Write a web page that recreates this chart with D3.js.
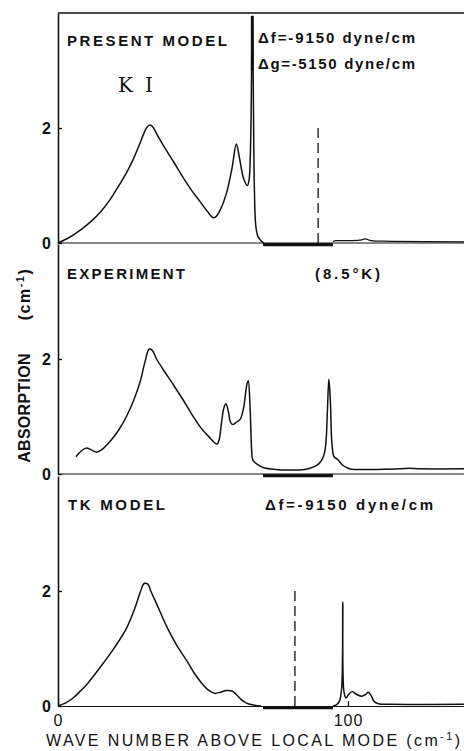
<!DOCTYPE html>
<html>
<head>
<meta charset="utf-8">
<script src="https://cdn.jsdelivr.net/npm/d3@7"></script>
<style>
  body { margin: 0; background: #fff; }
  svg { display: block; }
  text { font-family: 'Liberation Sans', Arial, sans-serif; fill: #111; }
</style>
</head>
<body>
<div id="chart"></div>
<script>
// wave number above local mode (cm-1) and absorption (cm-1)
const presentX = [0, 4, 8.6, 11.5, 14.5, 17.9, 21, 23.6, 25.9, 28, 29.4, 30.5, 31.5, 32.5, 34, 37, 40, 43, 46, 49, 51.5, 53.5, 54.5, 56, 58, 60, 61.5, 62.5, 64, 65.3, 65.9, 67.0, 67.7, 68.2, 68.9, 70, 71]
const presentY = [0, 0.1, 0.26, 0.38, 0.53, 0.75, 1.0, 1.22, 1.45, 1.7, 1.88, 2.0, 2.05, 2.03, 1.9, 1.64, 1.4, 1.15, 0.92, 0.72, 0.55, 0.44, 0.46, 0.58, 0.85, 1.3, 1.72, 1.5, 1.12, 1.0, 1.1, 3.95, 1.0, 0.3, 0.12, 0.04, 0]
const presentTailX = [94.8, 96, 100, 104, 106, 108, 115, 140]
const presentTailY = [0.03, 0.04, 0.04, 0.05, 0.07, 0.04, 0.03, 0.02]

const experimentX = [6.2, 8, 9.7, 11.5, 13.3, 15, 18, 21, 23.6, 26, 28.3, 30, 31.4, 32.5, 34, 36.5, 39.8, 43, 46, 49, 52, 54.8, 55.6, 56.4, 57.2, 57.9, 58.7, 59.5, 60.2, 61.5, 62.8, 64, 65.1, 65.6, 66.2, 66.8, 67.2, 69, 71, 75, 80, 85, 88, 90, 91.5, 92.3, 92.9, 93.4, 93.9, 94.5, 95.2, 96.5, 98, 100, 102, 110, 118, 121, 125, 140]
const experimentY = [0.3, 0.4, 0.45, 0.42, 0.38, 0.42, 0.57, 0.77, 1.0, 1.27, 1.6, 1.95, 2.17, 2.15, 2.0, 1.8, 1.55, 1.3, 1.05, 0.82, 0.65, 0.52, 0.6, 0.9, 1.15, 1.22, 1.1, 0.9, 0.86, 0.9, 0.95, 1.15, 1.55, 1.62, 1.2, 0.4, 0.24, 0.16, 0.11, 0.08, 0.07, 0.08, 0.12, 0.18, 0.3, 0.5, 1.1, 1.65, 1.3, 0.5, 0.3, 0.25, 0.16, 0.1, 0.08, 0.08, 0.09, 0.1, 0.09, 0.09]

const tkX = [0, 2.5, 5, 7.5, 10, 14.5, 19, 23.6, 26.5, 28.5, 29.7, 31, 32, 34.5, 37.5, 41, 44.5, 47, 49.5, 52, 54, 56, 58, 60, 61.5, 63, 65, 67, 70]
const tkY = [0, 0.05, 0.13, 0.25, 0.38, 0.67, 0.98, 1.35, 1.7, 2.0, 2.13, 2.12, 2.0, 1.72, 1.38, 1.05, 0.78, 0.57, 0.4, 0.27, 0.22, 0.24, 0.27, 0.26, 0.2, 0.12, 0.05, 0.02, 0]
const tkTailX = [94.8, 96, 97, 97.8, 98.2, 98.6, 99.3, 100.2, 101.4, 103, 104.8, 106, 107, 108, 109, 110.5, 115, 140]
const tkTailY = [0, 0.02, 0.08, 0.3, 1.81, 0.25, 0.14, 0.2, 0.25, 0.2, 0.17, 0.2, 0.24, 0.18, 0.08, 0.04, 0.03, 0.03]

// gap band on the baseline and the dashed marker lines
const gapBand = [70.7, 94.8]
const dashPresent = [89.7, 2.0]
const dashTk = [81.7, 2.08]

const xTicks = [0, 100]
const yTicks = [0, 2]

const W = 464, H = 751
const left = 58
const panels = [
  { top: 13, bottom: 243 },
  { top: 244, bottom: 474 },
  { top: 476, bottom: 706 }
]

const svg = d3.select('#chart').append('svg').attr('width', W).attr('height', H)

const x = d3.scaleLinear().domain([0, 140]).range([left, W])
const ys = panels.map(p => d3.scaleLinear().domain([0, 4]).range([p.bottom, p.top]))

const zip = (a, b) => a.map((v, i) => [v, b[i]])

function curve(y, pts, width) {
  const line = d3.line()
    .x(d => x(d[0]))
    .y(d => y(d[1]))
    .curve(d3.curveCatmullRom.alpha(0.5))
  svg.append('path')
    .attr('d', line(pts))
    .attr('fill', 'none')
    .attr('stroke', '#111')
    .attr('stroke-width', width || 1.5)
    .attr('stroke-linejoin', 'round')
}

// frame: top line and baselines
svg.append('line')
  .attr('x1', left).attr('x2', W)
  .attr('y1', panels[0].top).attr('y2', panels[0].top)
  .attr('stroke', '#111').attr('stroke-width', 1.3)

panels.forEach((p, i) => {
  const y = ys[i]
  const ax = svg.append('g')
    .attr('transform', `translate(${left},0)`)
    .call(d3.axisLeft(y).tickValues(yTicks).tickSizeInner(-4).tickSizeOuter(0).tickPadding(7).tickFormat(d3.format('d')))
  ax.select('.domain').attr('stroke', '#111').attr('stroke-width', 1.6)
  ax.selectAll('.tick line').attr('stroke', '#111').attr('stroke-width', 1.3)
  ax.selectAll('.tick text')
    .style('font-size', '16px').style('font-weight', 'bold')
    .style('font-family', "'Liberation Sans', Arial, sans-serif")

  if (i < 2) {
    svg.append('line')
      .attr('x1', left).attr('x2', W)
      .attr('y1', y(0)).attr('y2', y(0))
      .attr('stroke', '#111').attr('stroke-width', 1.2)
  }
  // thick band
  svg.append('line')
    .attr('x1', x(gapBand[0])).attr('x2', x(gapBand[1]))
    .attr('y1', y(0) + 1.6).attr('y2', y(0) + 1.6)
    .attr('stroke', '#111').attr('stroke-width', 3.2)
})

// x axis on the bottom panel
const xa = svg.append('g')
  .attr('transform', `translate(0,${panels[2].bottom})`)
  .call(d3.axisBottom(x).tickValues(xTicks).tickSizeInner(-5).tickSizeOuter(0).tickPadding(9).tickFormat(d3.format('d')))
xa.select('.domain').attr('stroke', '#111').attr('stroke-width', 1.2)
xa.selectAll('.tick line').attr('stroke', '#111').attr('stroke-width', 1.2)
xa.selectAll('.tick text')
  .style('font-size', '16px')
  .style('font-family', "'Liberation Sans', Arial, sans-serif")
  .attr('letter-spacing', 1)
xa.selectAll('.tick').filter(d => d === 0).select('line').remove()

// curves
curve(ys[0], zip(presentX, presentY))
curve(ys[0], zip(presentTailX, presentTailY), 1.3)
// the tall spike is drawn heavy near its top
svg.append('line')
  .attr('x1', x(67.0)).attr('x2', x(67.0))
  .attr('y1', ys[0](3.95)).attr('y2', ys[0](3.0))
  .attr('stroke', '#111').attr('stroke-width', 3)
curve(ys[1], zip(experimentX, experimentY))
curve(ys[2], zip(tkX, tkY))
curve(ys[2], zip(tkTailX, tkTailY))

// dashed marker lines
;[[0, dashPresent], [2, dashTk]].forEach(([i, d]) => {
  svg.append('line')
    .attr('x1', x(d[0])).attr('x2', x(d[0]))
    .attr('y1', ys[i](0)).attr('y2', ys[i](d[1]))
    .attr('stroke', '#111').attr('stroke-width', 1.3)
    .attr('stroke-dasharray', '10,5')
})

// labels
function label(txt, px, py, size, len, weight, family) {
  const t = svg.append('text')
    .attr('x', px).attr('y', py)
    .style('font-size', size + 'px')
    .style('font-weight', weight || 'bold')
    .text(txt)
  if (len) t.attr('textLength', len).attr('lengthAdjust', 'spacing')
  if (family) t.style('font-family', family)
  return t
}

label('PRESENT MODEL', 67, 46, 15, 160)
label('KI', 118, 92, 20, 35, 'normal', "'DejaVu Serif', serif")
label('Δf=-9150 dyne/cm', 258, 43, 15, 157)
label('Δg=-5150 dyne/cm', 258, 69, 15, 157)
label('EXPERIMENT', 67, 279, 15, 118)
label('(8.5°K)', 315, 279, 15, 65)
label('TK MODEL', 68, 510, 15, 97)
label('Δf=-9150 dyne/cm', 265, 510, 15, 168)

const xt = svg.append('text')
  .attr('x', 46).attr('y', 746)
  .style('font-size', '16px')
  .attr('textLength', 414).attr('lengthAdjust', 'spacing')
xt.append('tspan').text('WAVE NUMBER ABOVE LOCAL MODE (cm')
xt.append('tspan').attr('dy', -6).style('font-size', '11px').text('-1')
xt.append('tspan').attr('dy', 6).text(')')

// y title in two pieces, as spaced in the figure
svg.append('text')
  .attr('transform', 'translate(30,408) rotate(-90)')
  .attr('text-anchor', 'middle')
  .style('font-size', '16px').style('font-weight', 'bold')
  .attr('letter-spacing', 0.3)
  .text('ABSORPTION')
const yu = svg.append('text')
  .attr('transform', 'translate(30,294) rotate(-90)')
  .attr('text-anchor', 'middle')
  .style('font-size', '16px').style('font-weight', 'bold')
  .attr('letter-spacing', 1.5)
yu.append('tspan').text('(cm')
yu.append('tspan').attr('dy', -6).style('font-size', '11px').text('-1')
yu.append('tspan').attr('dy', 6).text(')')
</script>
</body>
</html>
